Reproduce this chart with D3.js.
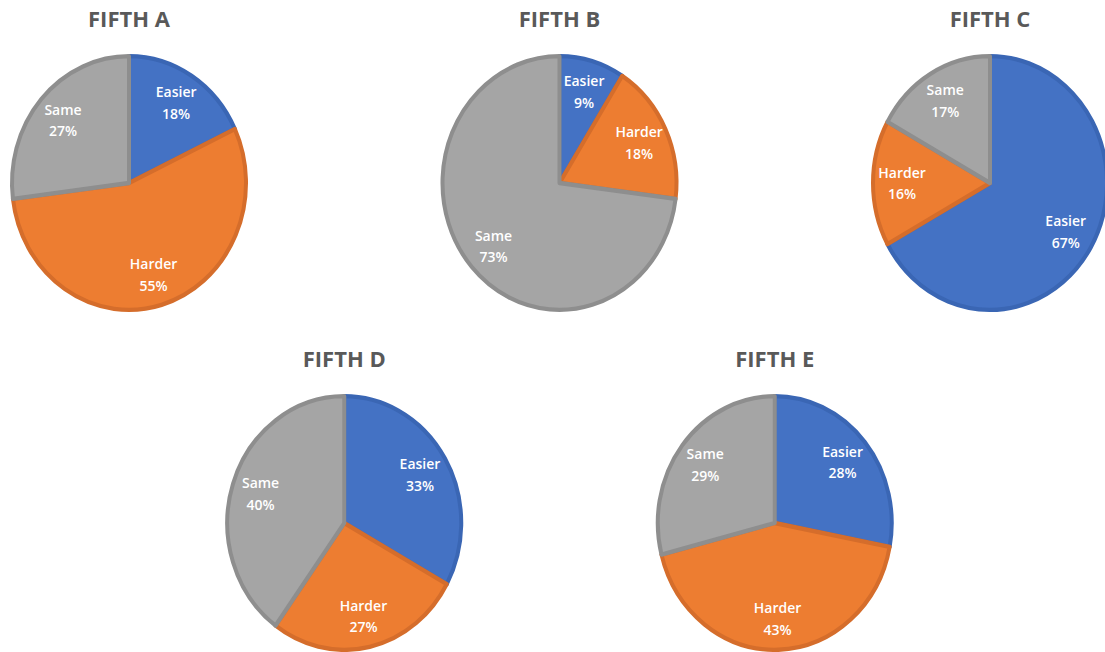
<!DOCTYPE html>
<html>
<head>
<meta charset="utf-8">
<script src="https://cdn.jsdelivr.net/npm/d3@7"></script>
<style>
  body { margin: 0; background: #fff; }
  svg { display: block; }
</style>
</head>
<body>
<div id="chart"></div>
<script>
// chart data
const titles = ["FIFTH A", "FIFTH B", "FIFTH C", "FIFTH D", "FIFTH E"];
const categories = ["Easier", "Harder", "Same"];
const easier = [18, 9, 67, 33, 28];
const harder = [55, 18, 16, 27, 43];
const same = [27, 73, 17, 40, 29];

// layout: grid column / row of each pie
const gridCol = [0, 1, 2, 0.5, 1.5];
const gridRow = [0, 0, 0, 1, 1];

const W = 1105, H = 652;
const rx = 119, ry = 129;

const colors = d3.scaleOrdinal().domain(categories).range(["#4472C4", "#ED7D31", "#A5A5A5"]);
const strokes = d3.scaleOrdinal().domain(categories).range(["#3A66B4", "#D56D2B", "#8E8E8E"]);

const xPos = d3.scaleLinear().domain([0, 2]).range([129, 990]);
const yPos = d3.scaleLinear().domain([0, 1]).range([183, 523]);

const svg = d3.select("#chart")
  .append("svg")
  .attr("width", W)
  .attr("height", H);

const pie = d3.pie().sort(null).value(d => d.value);
const arc = d3.arc().innerRadius(0).outerRadius(rx - 2);
const labelArc = d3.arc().innerRadius(88).outerRadius(88);

titles.forEach((t, i) => {
  const cx = xPos(gridCol[i]), cy = yPos(gridRow[i]);
  const data = [
    {name: "Easier", value: easier[i]},
    {name: "Harder", value: harder[i]},
    {name: "Same", value: same[i]}
  ];

  // title
  svg.append("text")
    .attr("x", cx)
    .attr("y", cy - 156)
    .attr("text-anchor", "middle")
    .attr("font-family", "'Open Sans', sans-serif")
    .attr("font-weight", 700)
    .attr("font-size", "22px")
    .attr("fill", "#595959")
    .text(t);

  const g = svg.append("g")
    .attr("transform", `translate(${cx},${cy}) scale(1,${ry / rx})`);

  const arcs = pie(data);

  g.selectAll("path")
    .data(arcs)
    .join("path")
    .attr("d", arc)
    .attr("fill", d => colors(d.data.name))
    .attr("stroke", d => strokes(d.data.name))
    .attr("stroke-width", 4)
    .attr("stroke-linejoin", "round");

  const lab = g.selectAll("g.lab")
    .data(arcs)
    .join("g")
    .attr("class", "lab")
    .attr("transform", d => `translate(${labelArc.centroid(d)})`);

  lab.append("text")
    .attr("y", -5)
    .text(d => d.data.name);
  lab.append("text")
    .attr("y", 15)
    .text(d => d.data.value + "%");

  lab.selectAll("text")
    .attr("text-anchor", "middle")
    .attr("font-family", "'Open Sans', sans-serif")
    .attr("font-weight", 600)
    .attr("font-size", "14px")
    .attr("fill", "#fff");
});
</script>
</body>
</html>
